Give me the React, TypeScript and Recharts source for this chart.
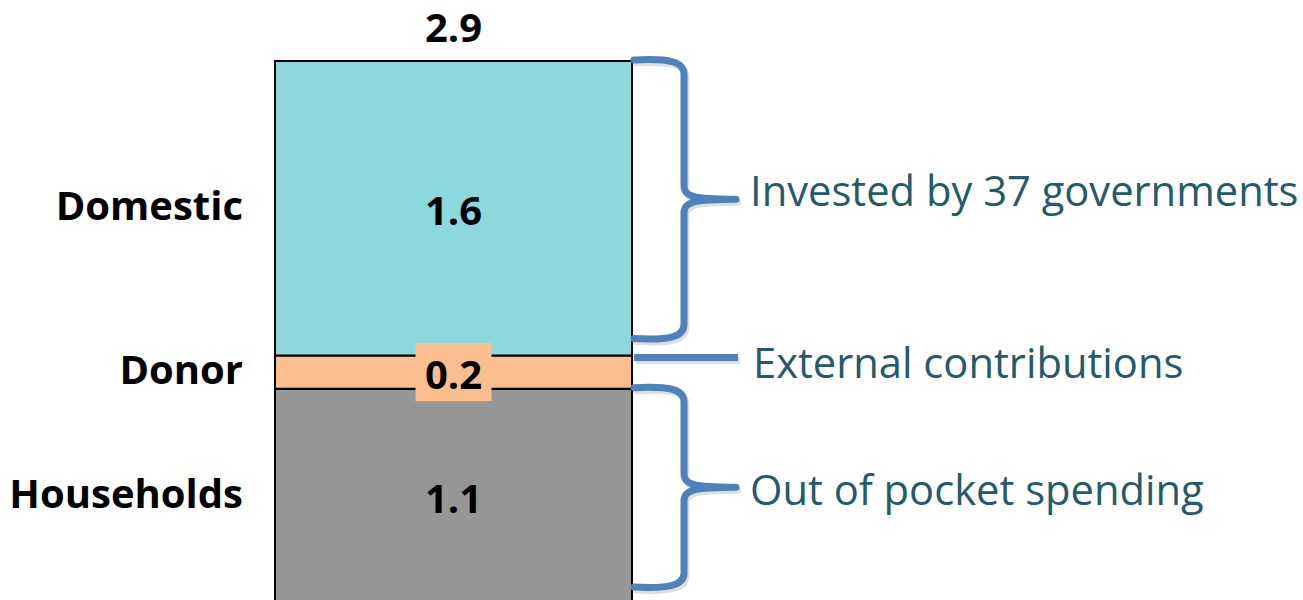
import { Bar, BarChart, LabelList, XAxis, YAxis } from "recharts";

// stack order: bottom to top
const categories = ["Health spending"];
const segmentNames = ["Households", "Donor", "Domestic"];
const segmentValues = [1.17, 0.18, 1.6];
const segmentLabels = ["1.1", "0.2", "1.6"];
const totalLabel = "2.9";
const annotations = ["Out of pocket spending", "External contributions", "Invested by 37 governments"];
const annotationKinds = ["brace", "line", "brace"];

const COLORS = ["#969696", "#FBBF8F", "#8DD8DD"];
const BRACE = "#4F81BD";
const NOTE_TEXT = "#245A6A";
const FONT = "'Open Sans', 'DejaVu Sans', sans-serif";

const W = 1303;
const H = 604;
const BAR_W = 357;
// plot band is a bit wider than the bar, recharts insets it
const MARGIN = { top: 61, right: 651, bottom: 0, left: 255 };
const TOTAL = segmentValues.reduce((a, b) => a + b, 0);

const data = categories.map((category) => {
  const row: Record<string, string | number> = { category };
  segmentNames.forEach((name, i) => {
    row[name] = segmentValues[i];
  });
  return row;
});

const bracePath = (x0: number, yt: number, yb: number, ym: number) => {
  const xv = x0 + 50;
  const xt = x0 + 102;
  return [
    `M ${x0} ${yt} C ${x0 + 36} ${yt - 2} ${xv} ${yt + 2} ${xv} ${yt + 14}`,
    `L ${xv} ${ym - 14} C ${xv} ${ym - 3} ${xv + 8} ${ym} ${xt} ${ym}`,
    `M ${xt} ${ym} C ${xv + 8} ${ym} ${xv} ${ym + 3} ${xv} ${ym + 14}`,
    `L ${xv} ${yb - 14} C ${xv} ${yb - 2} ${x0 + 36} ${yb + 2} ${x0} ${yb}`,
  ].join(" ");
};

const makeSegmentLabel = (i: number) => (props: any) => {
  const vb = props.viewBox ?? props;
  const x = Number(vb.x ?? props.x);
  const y = Number(vb.y ?? props.y);
  const width = Number(vb.width ?? props.width);
  const height = Number(vb.height ?? props.height);
  const cx = x + width / 2;
  const cy = y + height / 2;
  const right = x + width + 2;
  const kind = annotationKinds[i];
  const isTop = i === segmentNames.length - 1;

  let mark = null;
  let textY = 0;
  if (kind === "brace") {
    const yt = y - 1;
    const yb = y + height - 17;
    const ym = (yt + yb) / 2;
    const d = bracePath(right, yt, yb, ym);
    textY = ym + (i === 0 ? 18 : 7);
    mark = (
      <g>
        <path d={d} transform="translate(2,3)" fill="none" stroke="rgba(0,0,0,0.13)" strokeWidth={7} strokeLinecap="round" />
        <path d={d} fill="none" stroke={BRACE} strokeWidth={7} strokeLinecap="round" />
      </g>
    );
  } else {
    const ly = y + 2;
    textY = ly + 20;
    mark = (
      <g>
        <line x1={right + 2} y1={ly + 3} x2={right + 106} y2={ly + 3} stroke="rgba(0,0,0,0.13)" strokeWidth={7} />
        <line x1={right} y1={ly} x2={right + 104} y2={ly} stroke={BRACE} strokeWidth={7} />
      </g>
    );
  }

  return (
    <g>
      {kind === "line" && (
        <rect x={cx - 38} y={cy - 29} width={76} height={58} fill={COLORS[i]} />
      )}
      <text x={cx} y={cy + 17} textAnchor="middle" fontFamily={FONT} fontWeight={700} fontSize={40} fill="#000">
        {segmentLabels[i]}
      </text>
      <text x={x - 32} y={cy + 12} textAnchor="end" fontFamily={FONT} fontWeight={700} fontSize={40} fill="#000">
        {segmentNames[i]}
      </text>
      {mark}
      <text x={kind === "line" ? 753 : 750} y={textY} fontFamily={FONT} fontSize={41.7} fill={NOTE_TEXT}>
        {annotations[i]}
      </text>
      {isTop && (
        <text x={cx} y={y - 19} textAnchor="middle" fontFamily={FONT} fontWeight={700} fontSize={40} fill="#000">
          {totalLabel}
        </text>
      )}
    </g>
  );
};

export default function App() {
  const layer = { position: "absolute" as const, left: 0, top: 0 };
  return (
    <div style={{ position: "fixed", left: 0, top: 0, width: W, height: 600, overflow: "hidden", background: "#fff" }}>
      <div style={layer}>
        <BarChart width={W} height={H} data={data} margin={MARGIN} barCategoryGap={0} barGap={0}>
          <XAxis dataKey="category" hide padding={{ left: 0, right: 0 }} />
          <YAxis hide domain={[0, TOTAL]} />
          {segmentNames.map((name, i) => (
            <Bar
              key={name}
              dataKey={name}
              stackId="total"
              barSize={BAR_W}
              fill={COLORS[i]}
              stroke="#000"
              strokeWidth={2}
              isAnimationActive={false}
            />
          ))}
        </BarChart>
      </div>
      <div style={layer}>
        <BarChart width={W} height={H} data={data} margin={MARGIN} barCategoryGap={0} barGap={0}>
          <XAxis dataKey="category" hide padding={{ left: 0, right: 0 }} />
          <YAxis hide domain={[0, TOTAL]} />
          {segmentNames.map((name, i) => (
            <Bar
              key={name}
              dataKey={name}
              stackId="total"
              barSize={BAR_W}
              fill="none"
              isAnimationActive={false}
            >
              <LabelList dataKey={name} content={makeSegmentLabel(i)} />
            </Bar>
          ))}
        </BarChart>
      </div>
    </div>
  );
}
